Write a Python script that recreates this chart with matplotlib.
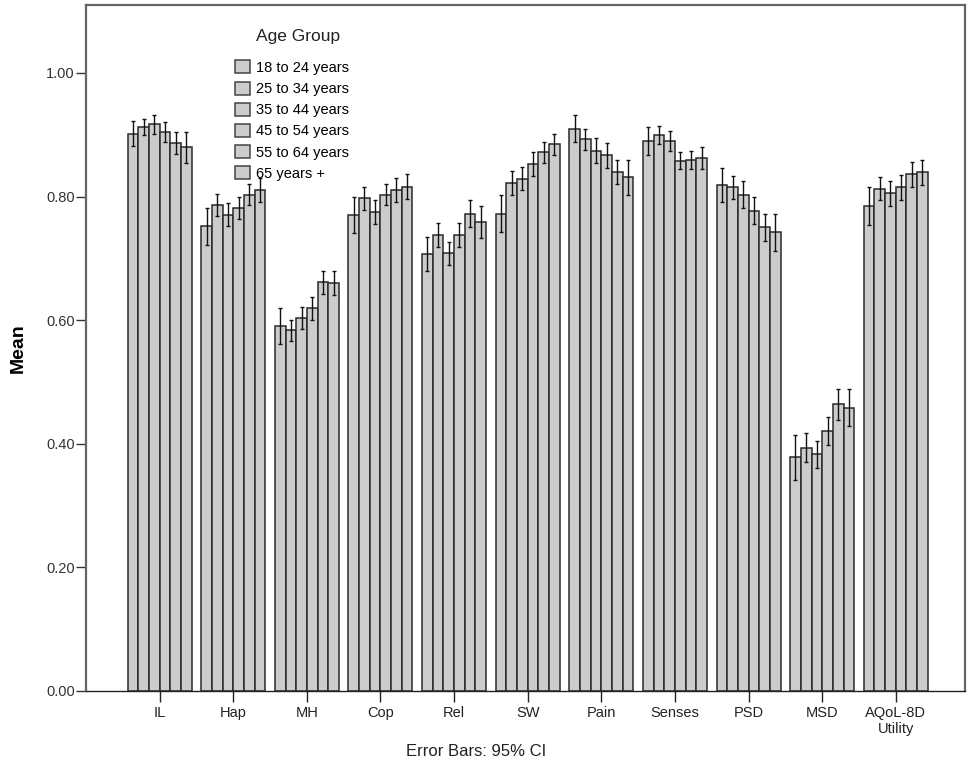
import matplotlib.pyplot as plt
import numpy as np

plt.rcParams['font.family'] = ['Liberation Sans', 'DejaVu Sans']

categories = ['IL', 'Hap', 'MH', 'Cop', 'Rel', 'SW', 'Pain', 'Senses', 'PSD', 'MSD',
              'AQoL-8D\nUtility']
age_groups = ['18 to 24 years', '25 to 34 years', '35 to 44 years',
              '45 to 54 years', '55 to 64 years', '65 years +']

# means, one list per age group (across the 11 categories)
means = [
    [0.902, 0.752, 0.591, 0.770, 0.707, 0.772, 0.910, 0.890, 0.819, 0.378, 0.785],
    [0.913, 0.786, 0.584, 0.797, 0.738, 0.822, 0.893, 0.900, 0.815, 0.394, 0.813],
    [0.917, 0.771, 0.603, 0.775, 0.708, 0.829, 0.874, 0.890, 0.803, 0.383, 0.805],
    [0.905, 0.781, 0.619, 0.803, 0.738, 0.853, 0.867, 0.858, 0.777, 0.421, 0.815],
    [0.887, 0.803, 0.661, 0.811, 0.772, 0.872, 0.840, 0.859, 0.750, 0.464, 0.836],
    [0.880, 0.811, 0.660, 0.816, 0.759, 0.885, 0.831, 0.862, 0.742, 0.458, 0.839],
]
# 95% CI half widths
ci = [
    [0.020, 0.030, 0.029, 0.029, 0.028, 0.030, 0.022, 0.022, 0.027, 0.037, 0.031],
    [0.013, 0.018, 0.017, 0.018, 0.020, 0.019, 0.017, 0.015, 0.019, 0.023, 0.019],
    [0.015, 0.018, 0.018, 0.019, 0.019, 0.019, 0.020, 0.016, 0.022, 0.022, 0.021],
    [0.016, 0.018, 0.018, 0.017, 0.020, 0.019, 0.020, 0.014, 0.022, 0.023, 0.020],
    [0.018, 0.017, 0.018, 0.019, 0.022, 0.017, 0.020, 0.015, 0.022, 0.025, 0.020],
    [0.025, 0.019, 0.020, 0.020, 0.026, 0.017, 0.028, 0.018, 0.030, 0.030, 0.021],
]

fig = plt.figure(figsize=(9.71, 7.75), dpi=100)
ax = fig.add_axes([86 / 971, 1 - 691 / 775, (965 - 86) / 971, (691 - 5) / 775])

x = np.arange(len(categories))
n = len(age_groups)
w = 0.145
for i in range(n):
    pos = x + (i - (n - 1) / 2) * w
    ax.bar(pos, means[i], width=w, color='#cccccc', edgecolor='#2a2a2a',
           linewidth=1.1, label=age_groups[i], zorder=2)
    ax.errorbar(pos, means[i], yerr=ci[i], fmt='none', ecolor='#111111',
                elinewidth=1.0, capsize=1.5, capthick=1.0, zorder=3)

ax.set_xlim(-1.0, len(categories) - 1 + 0.94)
ax.set_ylim(0, 1.11)
ax.set_yticks([0, 0.2, 0.4, 0.6, 0.8, 1.0])
ax.set_yticklabels(['0.00', '0.20', '0.40', '0.60', '0.80', '1.00'])
ax.set_xticks(x)
ax.set_xticklabels(categories)
ax.tick_params(axis='y', length=7, width=1, colors='#333333', labelsize=10.5, pad=1)
ax.tick_params(axis='x', length=8, width=1, colors='#222222', labelsize=10.5, pad=3)

for s in ['left', 'top', 'right']:
    ax.spines[s].set_color('#666666')
    ax.spines[s].set_linewidth(1.6)
ax.spines['bottom'].set_color('#222222')
ax.spines['bottom'].set_linewidth(1.0)

ax.set_ylabel('Mean', fontsize=14, fontweight='bold', labelpad=14)

fig.text(298 / 971, 1 - 37 / 775, 'Age Group', ha='center', va='center',
         fontsize=12.5, color='#222222')
leg = ax.legend(loc='upper left', frameon=False,
                bbox_to_anchor=(228 / 971, 1 - 53 / 775), bbox_transform=fig.transFigure,
                fontsize=10.5, handlelength=1.0, handleheight=1.0,
                handletextpad=0.4, labelspacing=0.46, borderpad=0)
for p in leg.get_patches():
    p.set_edgecolor('#444444')

fig.text(476 / 971, 1 - 752 / 775, 'Error Bars: 95% CI', ha='center', va='center',
         fontsize=12, color='#222222')

fig.savefig('out.png', dpi=100)
